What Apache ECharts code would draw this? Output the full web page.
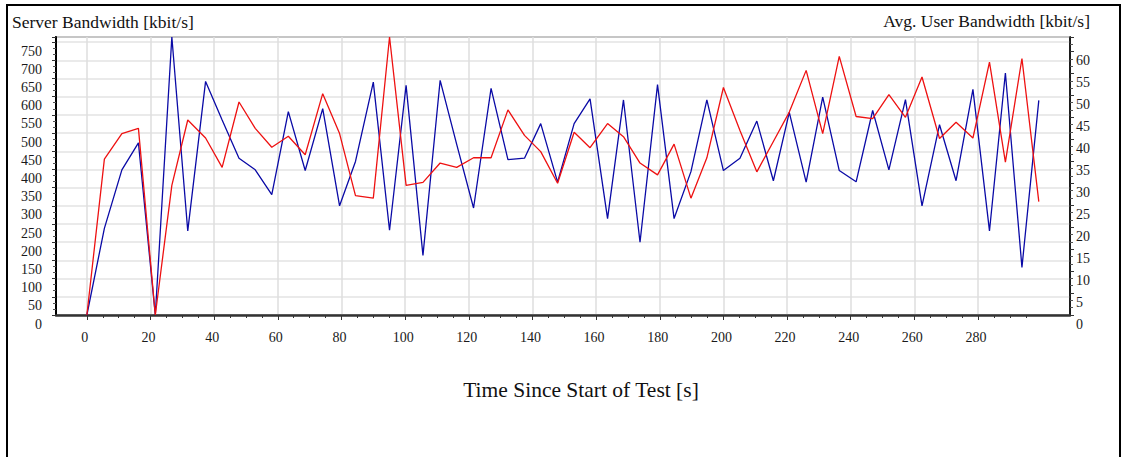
<!DOCTYPE html>
<html>
<head>
<meta charset="utf-8">
<script src="https://cdn.jsdelivr.net/npm/echarts@6/dist/echarts.min.js"></script>
<style>
html,body{margin:0;padding:0;background:#fff;}
#chart{width:1122px;height:457px;}
</style>
</head>
<body>
<div id="chart"></div>
<script>
// ---- data ----
const TIMES = [0, 5.5, 11.0, 16.2, 21.5, 26.7, 31.7, 37.3, 42.5, 47.8, 52.9, 58.1, 63.3, 68.6, 74.1, 79.4, 84.4, 90.0, 95.1, 100.3,
  105.6, 111.0, 116.2, 121.5, 127.0, 132.3, 137.5, 142.6, 147.9, 153.1, 158.1, 163.6, 168.6, 173.8, 179.3, 184.5, 189.8, 194.8, 200.0,
  205.2, 210.5, 215.7, 220.7, 226.0, 231.2, 236.4, 241.7, 246.9, 252.0, 257.2, 262.4, 267.9, 273.1, 278.4, 283.6, 288.6, 293.8, 299.1];
const SERVER_BW = [0, 238, 399, 473, 0, 764, 231, 642, 536, 431, 399, 331, 559, 397, 567, 300, 422, 640, 233, 631,
  164, 645, 469, 294, 623, 427, 431, 526, 365, 526, 594, 265, 591, 200, 633, 265, 394, 591, 397,
  431, 533, 369, 557, 365, 599, 397, 366, 562, 399, 592, 300, 523, 369, 620, 231, 665, 131, 590];
const USER_BW = [0, 35.5, 41.3, 42.5, 0, 29.5, 44.4, 40.3, 33.6, 48.5, 42.5, 38.2, 40.7, 36.5, 50.4, 41.3, 27.2, 26.6, 63.3, 29.5,
  30.2, 34.6, 33.6, 35.8, 35.8, 46.7, 40.9, 37.2, 30.0, 41.6, 38.1, 43.6, 40.6, 34.6, 31.9, 38.9, 26.6, 35.8, 51.8,
  42.0, 32.6, 39.5, 46.2, 55.7, 41.3, 58.9, 45.2, 44.7, 50.2, 45.0, 54.2, 40.2, 43.9, 40.3, 57.6, 34.8, 58.4, 25.8];
const X_LABEL_TICKS = [0, 20, 40, 60, 80, 100, 120, 140, 160, 180, 200, 220, 240, 260, 280];
const X_MINOR_STEP = 5, X_MINOR_LAST = 295;
const X_MIN = -9.7, X_MAX = 308.9;
const LEFT_MAX = 764, LEFT_STEP = 50;
const RIGHT_MAX = 63.3, RIGHT_STEP = 5;
const TITLE_LEFT = 'Server Bandwidth [kbit/s]';
const TITLE_RIGHT = 'Avg. User Bandwidth [kbit/s]';
const X_NAME = 'Time Since Start of Test [s]';

const X_MINOR_TICKS = [];
for (let t = 0; t <= X_MINOR_LAST; t += X_MINOR_STEP) X_MINOR_TICKS.push(t);

const serif = 'Liberation Serif';
const serverData = TIMES.map((t, i) => [t, SERVER_BW[i]]);
const userData = TIMES.map((t, i) => [t, USER_BW[i]]);

const chart = echarts.init(document.getElementById('chart'), null, {renderer: 'svg'});
chart.setOption({
  animation: false,
  backgroundColor: '#ffffff',
  grid: {left: 56, right: 52, top: 37, bottom: 142, show: true, borderColor: '#707070', borderWidth: 2, containLabel: false},
  graphic: [
    {type: 'rect', shape: {x: 7, y: 5, width: 1113, height: 470}, style: {fill: 'none', stroke: '#000', lineWidth: 2}, silent: true},
    {type: 'text', x: 12, y: 21.5, style: {text: TITLE_LEFT, fontSize: 17.5, fontFamily: serif, fill: '#111', align: 'left', verticalAlign: 'middle'}},
    {type: 'text', x: 1090, y: 20.5, style: {text: TITLE_RIGHT, fontSize: 17.5, fontFamily: serif, fill: '#111', align: 'right', verticalAlign: 'middle'}},
    {type: 'text', x: 581, y: 390, style: {text: X_NAME, fontSize: 21.5, fontFamily: serif, fill: '#111', align: 'center', verticalAlign: 'middle'}}
  ],
  xAxis: [
    {
      type: 'value', min: X_MIN, max: X_MAX, position: 'bottom',
      axisLine: {show: true, onZero: false, lineStyle: {color: '#333', width: 2.5}},
      axisTick: {show: true, customValues: X_MINOR_TICKS, length: 3, lineStyle: {color: '#333', width: 1}},
      axisLabel: {customValues: X_LABEL_TICKS, fontFamily: serif, fontSize: 14, color: '#1a1a1a', margin: 15, padding: [0, 4, 0, 0]},
      splitLine: {show: false}
    },
    {
      type: 'value', min: X_MIN, max: X_MAX, position: 'bottom',
      axisLine: {show: false, onZero: false},
      axisTick: {show: true, customValues: X_LABEL_TICKS, length: 5, lineStyle: {color: '#333', width: 1}},
      axisLabel: {show: false},
      splitLine: {show: true, lineStyle: {color: '#dedede', width: 1.5}}
    }
  ],
  yAxis: [
    {
      type: 'value', min: 0, max: LEFT_MAX, interval: LEFT_STEP, position: 'left',
      axisLine: {show: true, onZero: false, lineStyle: {color: '#000', width: 2}},
      axisTick: {show: true, length: 4, lineStyle: {color: '#333'}},
      minorTick: {show: true, splitNumber: 3, length: 3, lineStyle: {color: '#555'}},
      axisLabel: {fontFamily: serif, fontSize: 14, color: '#1a1a1a', margin: 14, verticalAlign: 'top', padding: [2, 0, 0, 0], showMaxLabel: false},
      splitLine: {show: true, lineStyle: {color: '#e3e3e3', width: 1.5}}
    },
    {
      type: 'value', min: 0, max: RIGHT_MAX, interval: RIGHT_STEP, position: 'right',
      axisLine: {show: true, onZero: false, lineStyle: {color: '#000', width: 1.5}},
      axisTick: {show: true, length: 4, lineStyle: {color: '#333'}},
      minorTick: {show: true, splitNumber: 3, length: 3, lineStyle: {color: '#555'}},
      axisLabel: {fontFamily: serif, fontSize: 14, color: '#1a1a1a', margin: 6, verticalAlign: 'top', padding: [2, 0, 0, 0], showMaxLabel: false},
      splitLine: {show: false}
    }
  ],
  series: [
    {name: 'Server Bandwidth', type: 'line', xAxisIndex: 0, yAxisIndex: 0, data: serverData, symbol: 'none', showSymbol: false,
     lineStyle: {color: '#0a0aa6', width: 1.3}, itemStyle: {color: '#0a0aa6'}},
    {name: 'Avg. User Bandwidth', type: 'line', xAxisIndex: 0, yAxisIndex: 1, data: userData, symbol: 'none', showSymbol: false,
     lineStyle: {color: '#ee1111', width: 1.3}, itemStyle: {color: '#ee1111'}}
  ]
});
</script>
</body>
</html>
